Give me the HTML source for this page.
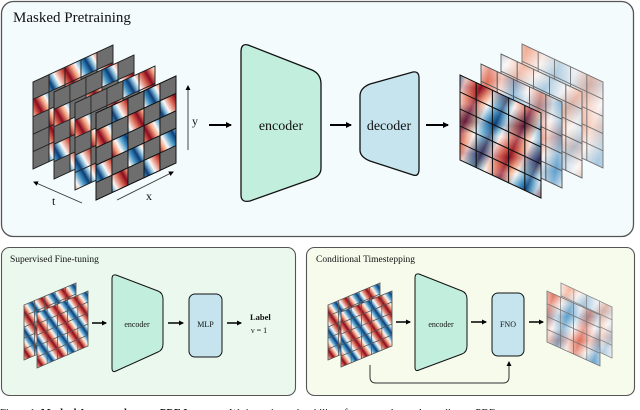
<!DOCTYPE html>
<html><head><meta charset="utf-8">
<style>
html,body{margin:0;padding:0;background:#fff;width:640px;height:410px;overflow:hidden}
svg{display:block}
text{font-family:"Liberation Serif",serif;fill:#111}
</style></head>
<body>
<svg id="s" width="640" height="410" viewBox="0 0 640 410" xmlns="http://www.w3.org/2000/svg">
<defs id="defs">
<marker id="ah" markerWidth="6" markerHeight="6" refX="5" refY="3" orient="auto" markerUnits="userSpaceOnUse"><path d="M0,0 L6,3 L0,6 z" fill="#000"/></marker>
<marker id="ahs" markerWidth="5" markerHeight="5" refX="4" refY="2.5" orient="auto" markerUnits="userSpaceOnUse"><path d="M0,0 L5,2.5 L0,5 z" fill="#000"/></marker>
</defs>

<rect x="1.5" y="1.5" width="632" height="235" rx="12" fill="#f3fbfd" stroke="#555" stroke-width="1.3"/>
<rect x="1.5" y="247.5" width="294" height="148" rx="8" fill="#eaf8ee" stroke="#555" stroke-width="1.1"/>
<rect x="306.5" y="247.5" width="328" height="148" rx="8" fill="#f6fbec" stroke="#555" stroke-width="1.1"/>

<text x="13" y="22" font-size="15">Masked Pretraining</text>
<text x="10" y="262" font-size="9.5">Supervised Fine-tuning</text>
<text x="316" y="262" font-size="9.5">Conditional Timestepping</text>

<g id="grids"></g>

<line x1="188" y1="150" x2="188" y2="86" stroke="#333" stroke-width="0.9" marker-end="url(#ahs)"/>
<text x="192" y="125" font-size="12">y</text>
<line x1="82" y1="203" x2="34" y2="182" stroke="#333" stroke-width="0.9" marker-end="url(#ahs)"/>
<text x="52" y="205" font-size="12">t</text>
<line x1="117" y1="200" x2="173" y2="172" stroke="#333" stroke-width="0.9" marker-end="url(#ahs)"/>
<text x="146" y="200" font-size="12">x</text>

<path d="M248,45 L312,70 Q321,74 321,84 L321,168 Q321,176 312,179 L250,201 Q241,203 241,195 L241,52 Q241,43 248,45 Z" fill="#c2eedd" stroke="#111" stroke-width="1.3"/>
<text x="281" y="130" font-size="14" text-anchor="middle">encoder</text>
<path d="M360,96 Q360,88 370,84 L413,72 Q419,71 419,78 L419,169 Q419,177 413,175 L370,161 Q360,157 360,150 Z" fill="#c5e4ee" stroke="#111" stroke-width="1.3"/>
<text x="389" y="130" font-size="14" text-anchor="middle">decoder</text>
<line x1="209" y1="125" x2="231" y2="125" stroke="#000" stroke-width="2" marker-end="url(#ah)"/>
<line x1="330" y1="125" x2="351" y2="125" stroke="#000" stroke-width="2" marker-end="url(#ah)"/>
<line x1="426" y1="125" x2="448" y2="125" stroke="#000" stroke-width="2" marker-end="url(#ah)"/>

<path d="M116,275 L158,291 Q163,293 163,299 L163,344 Q163,350 158,352 L116,371 Q112,373 112,368 L112,279 Q112,274 116,275 Z" fill="#c2eedd" stroke="#111" stroke-width="1"/>
<text x="137" y="327" font-size="8" text-anchor="middle">encoder</text>
<rect x="189" y="294" width="33" height="63" rx="6" fill="#c5e4ee" stroke="#111" stroke-width="1"/>
<text x="205.5" y="327" font-size="8" text-anchor="middle">MLP</text>
<line x1="92" y1="323" x2="106" y2="323" stroke="#000" stroke-width="1.5" marker-end="url(#ahs)"/>
<line x1="168" y1="323" x2="183" y2="323" stroke="#000" stroke-width="1.5" marker-end="url(#ahs)"/>
<line x1="227" y1="323" x2="241" y2="323" stroke="#000" stroke-width="1.5" marker-end="url(#ahs)"/>
<text x="250" y="320" font-size="8.5" font-weight="bold">Label</text>
<text x="251" y="333" font-size="8">ν = 1</text>

<path d="M419,274 L462,291 Q467,293 467,299 L467,346 Q467,352 462,354 L419,370 Q415,372 415,367 L415,278 Q415,273 419,274 Z" fill="#c2eedd" stroke="#111" stroke-width="1"/>
<text x="441" y="327" font-size="8" text-anchor="middle">encoder</text>
<rect x="492" y="293" width="32" height="63" rx="6" fill="#c5e4ee" stroke="#111" stroke-width="1"/>
<text x="508" y="327" font-size="8" text-anchor="middle">FNO</text>
<line x1="396" y1="322" x2="410" y2="322" stroke="#000" stroke-width="1.5" marker-end="url(#ahs)"/>
<line x1="471" y1="322" x2="486" y2="322" stroke="#000" stroke-width="1.5" marker-end="url(#ahs)"/>
<line x1="529" y1="322" x2="543" y2="322" stroke="#000" stroke-width="1.5" marker-end="url(#ahs)"/>
<path d="M370,365 L370,377 Q370,383 376,383 L503,383 Q509,383 509,377 L509,362" fill="none" stroke="#333" stroke-width="1" marker-end="url(#ahs)"/>

<text x="0" y="416" font-size="10.5"><tspan>Figure 1: </tspan><tspan font-weight="bold">Masked Autoencoders are PDE Learners.</tspan> We investigate the ability of autoencoders to learn diverse PDE</text>
</svg>
<script>
(function(){
var g=document.getElementById('grids'),defs=document.getElementById('defs');var NS='http://www.w3.org/2000/svg';
var seed=11;function r(){seed=(seed*9301+49297)%233280;return seed/233280;}
var gid=0;
function grad(x1,y1,x2,y2,stops){
 var lg=document.createElementNS(NS,'linearGradient');var id='pg'+(gid++);
 lg.setAttribute('id',id);lg.setAttribute('gradientUnits','userSpaceOnUse');lg.setAttribute('spreadMethod','repeat');
 lg.setAttribute('x1',x1);lg.setAttribute('y1',y1);lg.setAttribute('x2',x2);lg.setAttribute('y2',y2);
 stops.forEach(function(s){var st=document.createElementNS(NS,'stop');st.setAttribute('offset',s[0]);st.setAttribute('stop-color',s[1]);lg.appendChild(st);});
 defs.appendChild(lg);return 'url(#'+id+')';
}
function poly(pts,fill,stroke,sw,op){var p=document.createElementNS(NS,'polygon');p.setAttribute('points',pts.map(function(q){return q[0].toFixed(1)+','+q[1].toFixed(1)}).join(' '));p.setAttribute('fill',fill);if(stroke){p.setAttribute('stroke',stroke);p.setAttribute('stroke-width',sw);}else p.setAttribute('stroke','none');if(op!=null)p.setAttribute('fill-opacity',op);g.appendChild(p);}
var strongStops=[[0,'#fdf6f3'],[0.18,'#d6604d'],[0.3,'#8b0a1f'],[0.45,'#f4a582'],[0.55,'#f7f7f7'],[0.7,'#4393c3'],[0.82,'#0a3d78'],[0.93,'#92c5de'],[1,'#fdf6f3']];
var midStops=[[0,'#fbfbfb'],[0.25,'#e0705a'],[0.5,'#fbf3ef'],[0.75,'#5f9fcc'],[1,'#fbfbfb']];
var lightStops=[[0,'#fbfbfb'],[0.25,'#f0a58a'],[0.5,'#fbf3ef'],[0.75,'#9cc3de'],[1,'#fbfbfb']];
function panel(x0,y0,w,h,sk,cols,rows,o){
 var P=[[x0,y0],[x0+w,y0+sk],[x0+w,y0+sk+h],[x0,y0+h]];
 var cx=x0+w/2,cy=y0+sk/2+h/2,per=o.per,a=o.ang*Math.PI/180;
 var st=o.st||strongStops;
 poly(P,grad(cx,cy,cx+per*Math.cos(a),cy+per*Math.sin(a),st));
 if(o.two){var b=(o.ang+70)*Math.PI/180,p2=per*1.2;
  poly(P,grad(cx,cy,cx+p2*Math.cos(b),cy+p2*Math.sin(b),st),null,0,o.op||0.35);}
 var cw=w/cols,rh=h/rows,dy=sk/cols;
 for(var i=0;i<cols;i++)for(var j=0;j<rows;j++){
  var x=x0+i*cw,y=y0+i*dy+j*rh;
  var c=[[x,y],[x+cw,y+dy],[x+cw,y+dy+rh],[x,y+rh]];
  var fill='none';
  if(o.mask&&(((i+j)%2==0&&r()<0.8)||r()<0.18))fill='#6e6e6e';
  poly(c,fill,o.sc,o.sw);
 }
 poly(P,'none',o.sc,o.sw);
}
panel(33,82,80,87,-37,5,5,{per:42,ang:-30,mask:1,sc:'#222',sw:0.8});
panel(54,92,80,87,-37,5,5,{per:42,ang:-30,mask:1,sc:'#222',sw:0.8});
panel(75,103,80,87,-37,5,5,{per:42,ang:-30,mask:1,sc:'#222',sw:0.8});
panel(96,113,80,87,-37,5,5,{per:42,ang:-30,mask:1,sc:'#111',sw:0.9});
panel(522,44,81,86,38,5,5,{per:70,ang:20,two:1,st:lightStops,sc:'#777',sw:0.8});
panel(501,54,81,86,38,5,5,{per:60,ang:40,two:1,st:lightStops,sc:'#666',sw:0.8});
panel(481,64,81,86,38,5,5,{per:55,ang:10,two:1,st:midStops,sc:'#555',sw:0.8});
panel(460,75,81,85,38,5,5,{per:55,ang:25,two:1,op:0.3,sc:'#111',sw:0.9});
panel(24,305,52,55,-22,5,5,{per:22,ang:-35,sc:'#555',sw:0.6});
panel(37,313,51,55,-22,5,5,{per:22,ang:-35,sc:'#555',sw:0.6});
panel(328,305,52,55,-22,5,5,{per:22,ang:-35,sc:'#555',sw:0.6});
panel(341,312,51,55,-21,5,5,{per:22,ang:-35,sc:'#555',sw:0.6});
panel(561,283,51,51,24,4,4,{per:40,ang:30,two:1,st:lightStops,sc:'#888',sw:0.6});
panel(547,291,53,51,24,4,4,{per:40,ang:20,two:1,st:midStops,sc:'#777',sw:0.6});
})();
</script>
</body></html>
